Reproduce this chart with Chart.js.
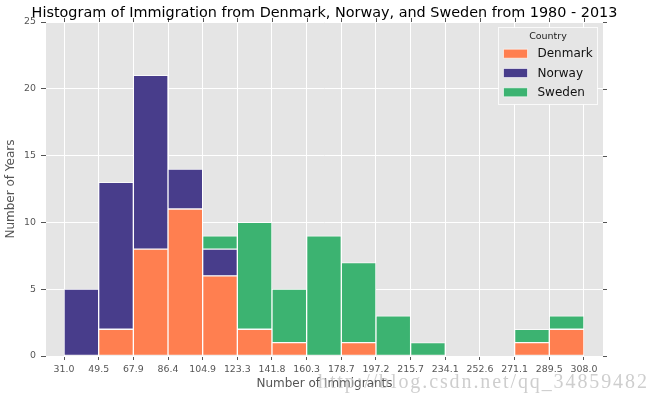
<!DOCTYPE html>
<html><head><meta charset="utf-8">
<script src="https://cdn.jsdelivr.net/npm/chart.js@4/dist/chart.umd.min.js"></script>
<style>html,body{margin:0;padding:0;background:#fff}#wrap{position:relative;width:660px;height:399px}</style>
</head><body><div id="wrap"><canvas id="c"></canvas></div>
<script>
// ---- data ----
const tickLabels = ['31.0','49.5','67.9','86.4','104.9','123.3','141.8','160.3','178.7','197.2','215.7','234.1','252.6','271.1','289.5','308.0'];
const countries = ['Denmark','Norway','Sweden'];
const denmark = [0, 2, 8, 11, 6, 2, 1, 0, 1, 0, 0, 0, 0, 1, 2];
const norway  = [5, 11, 13, 3, 2, 0, 0, 0, 0, 0, 0, 0, 0, 0, 0];
const sweden  = [0, 0, 0, 0, 1, 8, 4, 9, 6, 3, 1, 0, 0, 1, 1];
const yTicks = [0, 5, 10, 15, 20, 25];
const titleText = 'Histogram of Immigration from Denmark, Norway, and Sweden from 1980 - 2013';
const xTitle = 'Number of Immigrants';
const yTitle = 'Number of Years';
const legendTitle = 'Country';
const watermark = 'http://blog.csdn.net/qq_34859482';

const colors = ['#FF7F50', '#483D8B', '#3CB371'];
const FONT = "'DejaVu Sans', sans-serif";
const series = [denmark, norway, sweden];

const datasets = series.map((vals, k) => ({
  label: countries[k],
  data: vals.map((v, i) => ({x: i + 0.5, y: v === 0 ? null : v})),
  backgroundColor: colors[k],
  borderColor: 'rgba(255,255,255,0.75)',
  borderWidth: 1,
  borderSkipped: false,
  barPercentage: 1,
  categoryPercentage: 1
}));

const decor = {
  id: 'decor',
  beforeDraw(chart) {
    const {ctx, chartArea: a} = chart;
    ctx.save();
    ctx.fillStyle = '#E5E5E5';
    ctx.fillRect(a.left, a.top, a.right - a.left, a.bottom - a.top);
    ctx.restore();
  },
  afterDraw(chart) {
    const {ctx, chartArea: a, scales} = chart;
    ctx.save();
    // top and right tick marks
    ctx.strokeStyle = '#555555';
    ctx.lineWidth = 1;
    ctx.beginPath();
    tickLabels.forEach((_, i) => {
      const x = Math.round(scales.x.getPixelForValue(i)) + 0.5;
      ctx.moveTo(x, a.top - 4); ctx.lineTo(x, a.top);
    });
    yTicks.forEach(v => {
      const y = Math.round(scales.y.getPixelForValue(v)) + 0.5;
      ctx.moveTo(a.right, y); ctx.lineTo(a.right + 4, y);
    });
    ctx.stroke();
    // title
    ctx.fillStyle = '#000';
    ctx.font = '14.4px ' + FONT;
    ctx.textAlign = 'center';
    ctx.textBaseline = 'alphabetic';
    ctx.fillText(titleText, (a.left + a.right) / 2, 17);
    // axis titles
    ctx.fillStyle = '#555555';
    ctx.font = '12px ' + FONT;
    ctx.textBaseline = 'middle';
    ctx.fillText(xTitle, (a.left + a.right) / 2, 384);
    ctx.save();
    ctx.translate(11, (a.top + a.bottom) / 2);
    ctx.rotate(-Math.PI / 2);
    ctx.fillText(yTitle, 0, 0);
    ctx.restore();
    // legend
    const lx = 498.5, ly = 27.5, lw = 99, lh = 77;
    ctx.fillStyle = '#E5E5E5';
    ctx.fillRect(lx, ly, lw, lh);
    ctx.strokeStyle = 'rgba(255,255,255,0.8)';
    ctx.strokeRect(lx, ly, lw, lh);
    ctx.fillStyle = '#222';
    ctx.font = '9.5px ' + FONT;
    ctx.textAlign = 'center';
    ctx.fillText(legendTitle, lx + lw / 2, 36.5);
    ctx.font = '12px ' + FONT;
    ctx.textAlign = 'left';
    countries.forEach((name, k) => {
      const cy = 53.7 + k * 19.3;
      ctx.fillStyle = colors[k];
      ctx.fillRect(503.5, cy - 4.5, 24, 9);
      ctx.strokeStyle = 'rgba(255,255,255,0.6)';
      ctx.strokeRect(503.5, cy - 4.5, 24, 9);
      ctx.fillStyle = '#111';
      ctx.fillText(name, 537.5, cy + 0.5);
    });
    // watermark
    ctx.fillStyle = 'rgba(185,185,185,0.7)';
    ctx.font = '20px "Liberation Serif", serif';
    if ('letterSpacing' in ctx) ctx.letterSpacing = '1.9px';
    ctx.textAlign = 'left';
    ctx.textBaseline = 'alphabetic';
    ctx.fillText(watermark, 318, 388);
    ctx.restore();
  }
};

new Chart(document.getElementById('c'), {
  type: 'bar',
  data: {datasets},
  options: {
    responsive: true,
    maintainAspectRatio: false,
    animation: false,
    layout: {padding: {top: 22, right: 57, left: 0, bottom: 0}},
    plugins: {legend: {display: false}, tooltip: {enabled: false}, title: {display: false}},
    scales: {
      x: {
        type: 'linear',
        stacked: true,
        offset: false,
        bounds: 'data',
        min: -0.52,
        max: 15.55,
        afterFit(s) { s.height = 43; },
        afterBuildTicks(s) { s.ticks = tickLabels.map((_, i) => ({value: i})); },
        border: {display: false},
        grid: {color: '#ffffff', lineWidth: 1, tickColor: '#555555', tickLength: 4, offset: false},
        ticks: {
          autoSkip: false, maxRotation: 0, minRotation: 0, padding: 4,
          color: '#555555', font: {family: FONT, size: 9.4},
          callback: (v, i) => tickLabels[i]
        }
      },
      y: {
        stacked: true,
        min: 0,
        max: 25,
        afterFit(s) { s.width = 46; },
        afterBuildTicks(s) { s.ticks = yTicks.map(v => ({value: v})); },
        border: {display: false},
        grid: {color: '#ffffff', lineWidth: 1, tickColor: '#555555', tickLength: 5},
        ticks: {
          padding: 5, color: '#555555', font: {family: FONT, size: 9.4},
          callback: v => String(v)
        }
      }
    }
  },
  plugins: [decor]
});
</script>
</body></html>
